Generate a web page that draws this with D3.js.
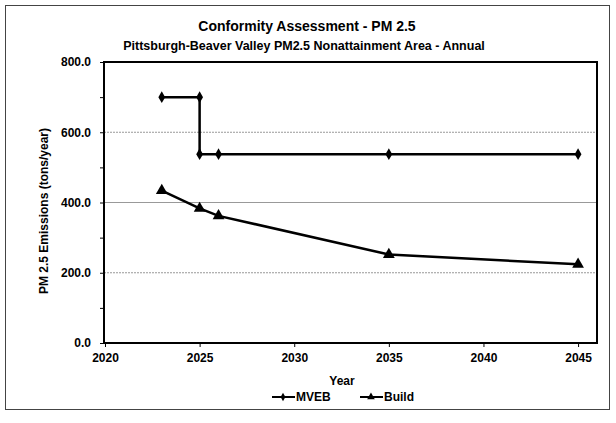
<!DOCTYPE html>
<html><head><meta charset="utf-8">
<script src="https://cdn.jsdelivr.net/npm/d3@7"></script>
<style>body{margin:0;background:#fff}svg{display:block}text{font-family:"Liberation Sans",Arial,sans-serif;font-weight:bold;fill:#000}</style>
</head><body><svg id="c" width="616" height="423"></svg>
<script>
const mvebYears = [2023, 2025, 2025, 2026, 2035, 2045];
const mvebValues = [700, 700, 537.5, 537.5, 537.5, 537.5];
const buildYears = [2023, 2025, 2026, 2035, 2045];
const buildValues = [434, 383, 362, 252, 224];
const xTicks = [2020, 2025, 2030, 2035, 2040, 2045];
const yTicks = [0, 200, 400, 600, 800];
const yMinor = [100, 300, 500, 700];

const svg = d3.select("#c");
const L = 104, T = 62, R = 597, B = 343;
const x = d3.scaleLinear().domain([2020, 2046]).range([L + 1, R]);
const y = d3.scaleLinear().domain([0, 800]).range([B, T]);

svg.append("rect").attr("x", 5.5).attr("y", 5.5).attr("width", 604).attr("height", 404)
  .attr("fill", "#fff").attr("stroke", "#444").attr("stroke-width", 1);

// gridlines
[200, 400, 600].forEach(v => {
  svg.append("line").attr("x1", L).attr("x2", R).attr("y1", y(v)).attr("y2", y(v))
    .attr("stroke", "#999").attr("stroke-width", 1)
    .attr("stroke-dasharray", v === 400 ? null : "2,1");
});

// y axis
const ya = svg.append("g").attr("transform", `translate(${L},0)`)
  .call(d3.axisLeft(y).tickValues(yTicks).tickFormat(d3.format(".1f")).tickSize(4).tickPadding(9));
ya.select(".domain").remove();
ya.selectAll("text").attr("font-size", 12).attr("font-family", "Liberation Sans, Arial").attr("font-weight", "bold");
svg.append("g").attr("transform", `translate(${L},0)`)
  .call(d3.axisLeft(y).tickValues(yMinor).tickFormat("").tickSize(4)).select(".domain").remove();

// x axis
const xa = svg.append("g").attr("transform", `translate(0,${B})`)
  .call(d3.axisBottom(x).tickValues(xTicks).tickFormat(d3.format("d")).tickSize(4).tickPadding(6));
xa.select(".domain").remove();
xa.selectAll("text").attr("font-size", 12).attr("font-family", "Liberation Sans, Arial").attr("font-weight", "bold");

// frame
svg.append("rect").attr("x", L).attr("y", T).attr("width", R - L).attr("height", B - T)
  .attr("fill", "none").attr("stroke", "#000").attr("stroke-width", 2);

const line = d3.line().x(d => x(d[0])).y(d => y(d[1]));
const mveb = mvebYears.map((yr, i) => [yr, mvebValues[i]]);
const build = buildYears.map((yr, i) => [yr, buildValues[i]]);

svg.append("path").datum(mveb).attr("d", line).attr("fill", "none").attr("stroke", "#000").attr("stroke-width", 2.5);
svg.append("path").datum(build).attr("d", line).attr("fill", "none").attr("stroke", "#000").attr("stroke-width", 2.5);

const diamond = d3.symbol().type(d3.symbolDiamond).size(40);
const tri = d3.symbol().type(d3.symbolTriangle).size(60);
svg.selectAll(".md").data(mveb).join("path").attr("d", diamond)
  .attr("transform", d => `translate(${x(d[0])},${y(d[1])})`).attr("fill", "#000");
svg.selectAll(".bt").data(build).join("path").attr("d", tri)
  .attr("transform", d => `translate(${x(d[0])},${y(d[1])})`).attr("fill", "#000");

// titles
svg.append("text").attr("x", 307).attr("y", 31).attr("text-anchor", "middle").attr("font-size", 14).text("Conformity Assessment - PM 2.5");
svg.append("text").attr("x", 304).attr("y", 50).attr("text-anchor", "middle").attr("font-size", 12.5)
  .text("Pittsburgh-Beaver Valley PM2.5 Nonattainment Area - Annual");
svg.append("text").attr("transform", "translate(48,211) rotate(-90)").attr("text-anchor", "middle").attr("font-size", 12)
  .text("PM 2.5 Emissions (tons/year)");
svg.append("text").attr("x", 342).attr("y", 385).attr("text-anchor", "middle").attr("font-size", 12).text("Year");

// legend
const lg = svg.append("g");
lg.append("line").attr("x1", 272).attr("x2", 295).attr("y1", 397).attr("y2", 397).attr("stroke", "#000").attr("stroke-width", 2);
lg.append("path").attr("d", d3.symbol().type(d3.symbolDiamond).size(20)).attr("transform", "translate(283,397)");
lg.append("text").attr("x", 296).attr("y", 401).attr("font-size", 12).text("MVEB");
lg.append("line").attr("x1", 360).attr("x2", 383).attr("y1", 397).attr("y2", 397).attr("stroke", "#000").attr("stroke-width", 2);
lg.append("path").attr("d", d3.symbol().type(d3.symbolTriangle).size(25)).attr("transform", "translate(371,397)");
lg.append("text").attr("x", 384).attr("y", 401).attr("font-size", 12).text("Build");
</script></body></html>
